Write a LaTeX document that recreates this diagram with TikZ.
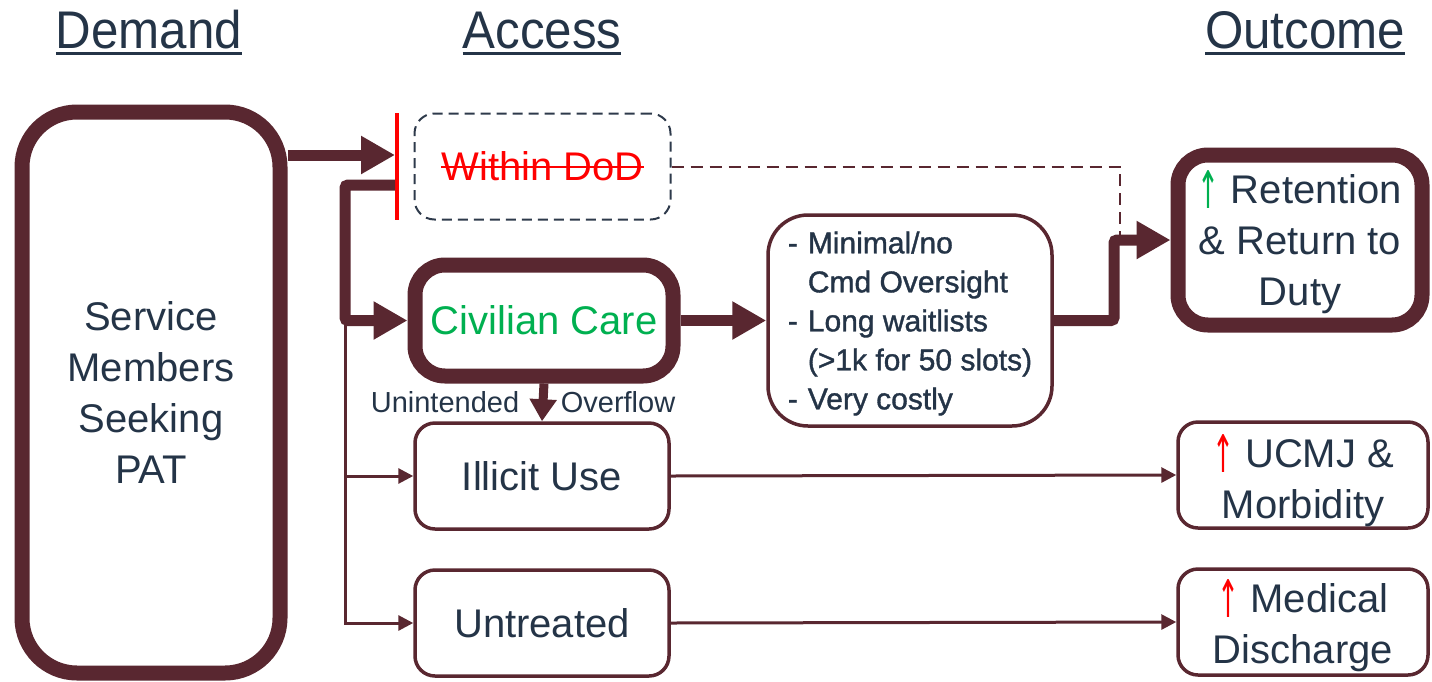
\documentclass[tikz,border=0pt]{standalone}
\usepackage{fontspec}
\setmainfont{Liberation Sans}
\newfontfamily\headfont[FakeStretch=0.93]{Liberation Sans}
\newfontfamily\notefont[FakeBold=1.2]{Liberation Sans}
\newfontfamily\arrowfont{DejaVu Sans}
\usetikzlibrary{arrows.meta}
\definecolor{maroon}{HTML}{592730}
\definecolor{ink}{HTML}{243447}
\definecolor{slate}{HTML}{2E3A4B}
\definecolor{okgreen}{HTML}{00B050}
% underlined and struck-out words, tall arrow, lowered text block
\newcommand{\headline}[1]{\setbox0\hbox{#1}\rlap{\rule[-7pt]{\wd0}{3pt}}\box0}
\newcommand{\struck}[1]{\setbox0\hbox{#1}\rlap{\rule[0.33em]{\wd0}{2pt}}\box0}
\newcommand{\upmark}[1]{\textcolor{#1}{\raisebox{-5pt}{\resizebox*{22pt}{38pt}{\arrowfont ↑}}}}
\newcommand{\nudge}[2]{\raisebox{-#1}[\height][\depth]{\begin{tabular}{@{}c@{}}#2\end{tabular}}}

\begin{document}
\begin{tikzpicture}[x=1pt,y=-1pt,
	box/.style = {rectangle, draw=maroon, rounded corners=20pt, inner sep=0pt, align=center,
		text=ink, font=\fontsize{40}{51}\selectfont},
	heavy box/.style = {box, line width=15pt, rounded corners=30pt},
	thin box/.style = {box, line width=3.5pt},
	head/.style = {anchor=base, text=ink, font=\headfont\fontsize{53}{60}\selectfont},
	big arrow/.style = {draw=maroon, line width=11pt, rounded corners=3pt, -{Triangle[length=34pt,width=36pt]}},
	mid arrow/.style = {draw=maroon, line width=9pt, -{Triangle[length=22pt,width=26pt]}},
	thin arrow/.style = {draw=maroon, line width=3pt, -{Triangle[length=15pt,width=15pt]}},
	dash line/.style = {draw=maroon, line width=2pt, dash pattern=on 12pt off 7pt}]
	\useasboundingbox (0,0) rectangle (1432,681);

	% column heads
	\node[head] (hdemand) at (149,48) {\headline{Demand}};
	\node[head] (haccess) at (542,48) {\headline{Access}};
	\node[head] (houtcome) at (1305,48) {\headline{Outcome}};

	\node[heavy box, rounded corners=55pt, minimum width=258pt, minimum height=561pt] (demand) at (151,392.5)
		{Service\\Members\\Seeking\\PAT};
	\node[box, draw=slate, line width=2pt, dash pattern=on 10pt off 6pt, minimum width=256pt, minimum height=106pt,
		text=red] (dod) at (542.5,166.5) {\struck{Within DoD}};
	\node[fill=red, minimum width=4pt, minimum height=107pt, inner sep=0pt] (bar) at (397,166.5) {};
	\node[heavy box, minimum width=258pt, minimum height=111pt, text=okgreen] (civ) at (544,320.5) {Civilian Care};
	\node[thin box, rounded corners=40pt, minimum width=284pt, minimum height=211pt,
		font=\notefont\fontsize{30}{39}\selectfont] (notes) at (910,320.5)
		{\nudge{3pt}{\begin{tabular}{@{}l@{\hspace{10pt}}l@{}}
			- & Minimal/no\\
			  & Cmd Oversight\\
			- & Long waitlists\\
			  & (>1k for 50 slots)\\
			- & Very costly
		\end{tabular}}};
	\node[thin box, minimum width=254pt, minimum height=106pt] (illicit) at (542,476) {Illicit Use};
	\node[thin box, minimum width=254pt, minimum height=106pt] (untreated) at (542,623) {Untreated};
	\node[heavy box, minimum width=244pt, minimum height=170pt] (retain) at (1300,240)
		{\nudge{4pt}{\upmark{okgreen} Retention\\\& Return to\\Duty}};
	\node[thin box, minimum width=250pt, minimum height=106pt] (ucmj) at (1303,475)
		{\nudge{8pt}{\upmark{red} UCMJ \&\\Morbidity}};
	\node[thin box, minimum width=250pt, minimum height=106pt] (discharge) at (1303,622)
		{\nudge{6pt}{\upmark{red} Medical\\Discharge}};

	\coordinate (inlet) at (395,155);
	\coordinate (outlet) at (395,185);
	\coordinate (trunk) at (345,185);
	\coordinate (riser) at (1114,240);
	\coordinate (drop) at (1120,236);

	\draw[dash line] (dod.east) -| (drop);
	\draw[big arrow] (demand.east |- inlet) -- (inlet);
	\draw[thin arrow] (trunk) |- (illicit.west);
	\draw[thin arrow] (trunk) |- (untreated.west);
	\draw[big arrow] (outlet) -- (trunk) |- (civ.west);
	\draw[big arrow] (civ.east) -- (notes.west);
	\draw[big arrow] (notes.east) -| (riser) -- (retain.west);
	\draw[mid arrow] (civ.south) -- (illicit.north)
		node[midway, left=16pt, text=ink, font=\fontsize{29}{34}\selectfont] {Unintended}
		node[midway, right=10pt, text=ink, font=\fontsize{29}{34}\selectfont] {Overflow};
	\draw[thin arrow] (illicit.east) -- (ucmj.west);
	\draw[thin arrow] (untreated.east) -- (discharge.west);
\end{tikzpicture}
\end{document}
